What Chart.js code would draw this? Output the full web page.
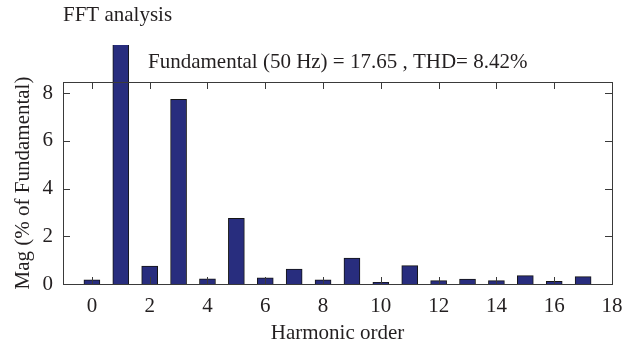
<!DOCTYPE html>
<html>
<head>
<meta charset="utf-8">
<script src="https://cdn.jsdelivr.net/npm/chart.js@4.4.1/dist/chart.umd.min.js"></script>
<style>
  html, body { margin: 0; padding: 0; background: #fff; }
  #wrap { width: 622px; height: 347px; position: relative; }
</style>
</head>
<body>
<div id="wrap"><canvas id="fft"></canvas></div>
<script>
// harmonic orders and magnitudes (% of fundamental)
const harmonics = [0, 1, 2, 3, 4, 5, 6, 7, 8, 9, 10, 11, 12, 13, 14, 15, 16, 17];
const magnitudes = [0.18, 100, 0.75, 7.74, 0.22, 2.75, 0.26, 0.63, 0.17, 1.09, 0.07, 0.77, 0.14, 0.21, 0.14, 0.35, 0.11, 0.31];
const xTicks = [0, 2, 4, 6, 8, 10, 12, 14, 16, 18];
const yTicks = [0, 2, 4, 6, 8];

const titleText = 'FFT analysis';
const noteText = 'Fundamental (50 Hz) = 17.65 , THD= 8.42%';

const serif = '"Liberation Serif", "Times New Roman", serif';
const ink = '#231f20';

// box round the plot, with inward ticks on all four sides
const framePlugin = {
  id: 'frame',
  afterDraw(chart) {
    const { ctx, chartArea: a, scales } = chart;
    ctx.save();
    ctx.strokeStyle = '#3a3a3a';
    ctx.lineWidth = 1;
    ctx.strokeRect(a.left + 0.5, a.top + 0.5, a.right - a.left, a.bottom - a.top);
    const len = 7;
    ctx.beginPath();
    xTicks.forEach((v) => {
      const px = Math.round(scales.x.getPixelForValue(v)) + 0.5;
      ctx.moveTo(px, a.bottom); ctx.lineTo(px, a.bottom - len);
      ctx.moveTo(px, a.top); ctx.lineTo(px, a.top + len);
    });
    yTicks.forEach((v) => {
      const py = Math.round(scales.y.getPixelForValue(v)) + 0.5;
      ctx.moveTo(a.left, py); ctx.lineTo(a.left + len, py);
      ctx.moveTo(a.right, py); ctx.lineTo(a.right - len, py);
    });
    ctx.stroke();

    ctx.fillStyle = ink;
    ctx.font = '21px ' + serif;
    ctx.textAlign = 'left';
    ctx.textBaseline = 'alphabetic';
    ctx.fillText(titleText, 63, 21);
    ctx.fillText(noteText, 148, 68);
    ctx.restore();
  },
};

new Chart(document.getElementById('fft'), {
  type: 'bar',
  data: {
    datasets: [
      {
        data: harmonics.map((h, i) => ({ x: h, y: magnitudes[i] })),
        backgroundColor: '#282d7e',
        borderColor: '#151515',
        borderWidth: 1,
        barThickness: 16,
        clip: { left: 10, top: 37, right: 10, bottom: 0 },
      },
    ],
  },
  options: {
    responsive: true,
    maintainAspectRatio: false,
    animation: false,
    layout: { padding: { top: 82, right: 10, left: 0, bottom: 0 } },
    plugins: { legend: { display: false }, tooltip: { enabled: false } },
    scales: {
      x: {
        type: 'linear',
        min: -1,
        max: 18,
        offset: false,
        afterBuildTicks: (scale) => { scale.ticks = xTicks.map((v) => ({ value: v })); },
        afterFit: (scale) => {
          scale.height = 63;
          scale.paddingLeft = 0;
          scale.paddingRight = 0;
        },
        grid: { display: false, drawTicks: false, offset: false },
        border: { display: false },
        ticks: { color: ink, padding: 10, font: { family: serif, size: 21 } },
        title: {
          display: true,
          text: 'Harmonic order',
          color: ink,
          font: { family: serif, size: 21 },
          padding: { top: 0, bottom: 1 },
        },
      },
      y: {
        min: 0,
        max: 8.47,
        afterBuildTicks: (scale) => { scale.ticks = yTicks.map((v) => ({ value: v })); },
        afterFit: (scale) => { scale.width = 63; },
        grid: { display: false, drawTicks: false },
        border: { display: false },
        ticks: { color: ink, padding: 10, font: { family: serif, size: 21 } },
        title: {
          display: true,
          text: 'Mag (% of Fundamental)',
          color: ink,
          font: { family: serif, size: 21 },
          padding: { top: 11, bottom: 0 },
        },
      },
    },
  },
  plugins: [framePlugin],
});
</script>
</body>
</html>
